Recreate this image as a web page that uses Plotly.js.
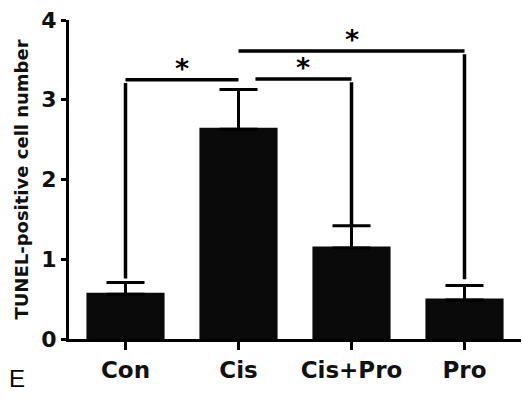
<!DOCTYPE html>
<html><head><meta charset="utf-8">
<script src="https://cdn.plot.ly/plotly-3.0.1.min.js"></script>
<style>html,body{margin:0;padding:0;background:#fff}#chart{width:522px;height:406px}</style>
</head><body><div id="chart"></div>
<script>
const categories = ['Con', 'Cis', 'Cis+Pro', 'Pro'];
const means = [0.56, 2.63, 1.14, 0.49];
const sem = [0.15, 0.50, 0.28, 0.18];
const yTicks = [0, 1, 2, 3, 4];
// significance brackets: from group A to group B, at height, vertical at B down to dropTo
const bracketA = ['Cis', 'Cis', 'Cis'];
const bracketB = ['Con', 'Cis+Pro', 'Pro'];
const bracketY = [3.25, 3.26, 3.61];
const bracketDropTo = [0.76, 1.42, 0.75];
const bracketLabel = ['*', '*', '*'];

const idx = c => categories.indexOf(c);
const shapes = [];
const annotations = [];
for (let i = 0; i < bracketA.length; i++) {
  const a = idx(bracketA[i]), b = idx(bracketB[i]);
  let xa = a, xb = b;
  if (i === 1) xa = a + 0.15;
  shapes.push({type: 'line', xref: 'x', yref: 'y', x0: xa, x1: xb, y0: bracketY[i], y1: bracketY[i],
    line: {color: '#000', width: 3.5}});
  shapes.push({type: 'line', xref: 'x', yref: 'y', x0: b, x1: b, y0: bracketY[i] - 0.04, y1: bracketDropTo[i],
    line: {color: '#000', width: 3.5}});
  annotations.push({xref: 'x', yref: 'y', x: (xa + xb) / 2, y: bracketY[i], text: bracketLabel[i],
    showarrow: false, yanchor: 'bottom', yshift: -6,
    font: {family: 'DejaVu Sans', size: 27, color: '#000', weight: 'bold'}});
}
annotations.push({xref: 'paper', yref: 'paper', x: -0.137, y: -0.125, xanchor: 'left', yanchor: 'middle',
  text: 'E', showarrow: false, font: {family: 'Liberation Sans', size: 24, color: '#000'}});

const trace = {
  type: 'bar', x: categories, y: means,
  marker: {color: '#0a0a0a', line: {width: 3, color: '#0a0a0a'}},
  width: 0.665,
  error_y: {type: 'data', array: sem, arrayminus: sem.map(() => 0), symmetric: false,
    color: '#000', thickness: 3, width: 19}
};

const layout = {
  width: 522, height: 406,
  margin: {l: 69, r: 1, t: 20, b: 67},
  paper_bgcolor: '#fff', plot_bgcolor: '#fff',
  showlegend: false,
  xaxis: {range: [-0.5, 3.5], showline: true, linewidth: 3, linecolor: '#000', ticks: 'outside',
    ticklen: 8, tickwidth: 3, tickcolor: '#000', showgrid: false, zeroline: false,
    tickfont: {family: 'DejaVu Sans', size: 23, color: '#111', weight: 'bold'}},
  yaxis: {range: [0, 4], tickvals: yTicks, showline: true, linewidth: 3, linecolor: '#000', ticks: 'outside',
    ticklen: 5, tickwidth: 3, tickcolor: '#000', showgrid: false, zeroline: false,
    tickfont: {family: 'DejaVu Sans', size: 22, color: '#111', weight: 'bold'},
    title: {text: 'TUNEL-positive cell number', standoff: 8,
      font: {family: 'DejaVu Sans', size: 18, color: '#111', weight: 'bold'}}},
  shapes: shapes,
  annotations: annotations
};
Plotly.newPlot('chart', [trace], layout, {displayModeBar: false, staticPlot: true});
</script></body></html>
